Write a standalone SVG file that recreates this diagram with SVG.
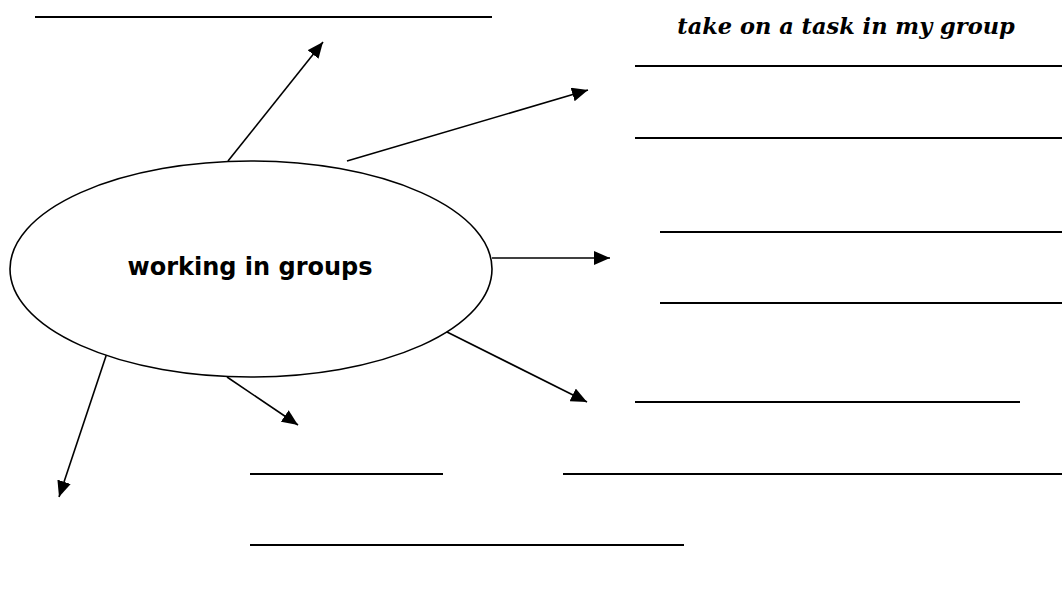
<svg xmlns="http://www.w3.org/2000/svg" width="1062" height="592" viewBox="0 0 1062 592">
  <style>
    .blank { stroke: #000; stroke-width: 2; fill: none; }
    .arrow { stroke: #000; stroke-width: 1.6; fill: none; marker-end: url(#head); }
    .hub { stroke: #000; stroke-width: 1.6; fill: #fff; }
    .hub-label { font-family: "Comic Sans MS", "DejaVu Sans", sans-serif; font-weight: bold; font-size: 24px; fill: #000; }
    .prompt { font-family: "DejaVu Serif", "Liberation Serif", serif; font-weight: bold; font-style: italic; font-size: 22.5px; fill: #000; }
  </style>
  <defs>
    <marker id="head" markerUnits="userSpaceOnUse" markerWidth="18" markerHeight="14" refX="16" refY="7" orient="auto">
      <path d="M0,0 L16,7 L0,14 Z" fill="#000"/>
    </marker>
  </defs>
  <rect width="1062" height="592" fill="#fff"/>

  <!-- write-in lines -->
  <g id="blanks">
    <line class="blank" x1="35" y1="17" x2="492" y2="17"/>
    <line class="blank" x1="635" y1="66" x2="1062" y2="66"/>
    <line class="blank" x1="635" y1="138" x2="1062" y2="138"/>
    <line class="blank" x1="660" y1="232" x2="1062" y2="232"/>
    <line class="blank" x1="660" y1="303" x2="1062" y2="303"/>
    <line class="blank" x1="635" y1="402" x2="1020" y2="402"/>
    <line class="blank" x1="250" y1="474" x2="443" y2="474"/>
    <line class="blank" x1="563" y1="474" x2="1062" y2="474"/>
    <line class="blank" x1="250" y1="545" x2="684" y2="545"/>
  </g>

  <!-- spokes out of the central idea -->
  <g id="connectors">
    <line class="arrow" x1="228" y1="161" x2="323" y2="42"/>
    <line class="arrow" x1="347" y1="161" x2="588" y2="90"/>
    <line class="arrow" x1="492" y1="258" x2="610" y2="258"/>
    <line class="arrow" x1="443" y1="330" x2="587" y2="402"/>
    <line class="arrow" x1="227" y1="377" x2="298" y2="425"/>
    <line class="arrow" x1="107" y1="353" x2="59" y2="497"/>
  </g>

  <g id="hub">
    <ellipse class="hub" cx="251" cy="269" rx="241" ry="108"/>
    <text class="hub-label" x="250" y="275" text-anchor="middle">working in groups</text>
  </g>

  <g id="prompt">
    <text class="prompt" x="846" y="34" text-anchor="middle">take on a task in my group</text>
  </g>
</svg>
